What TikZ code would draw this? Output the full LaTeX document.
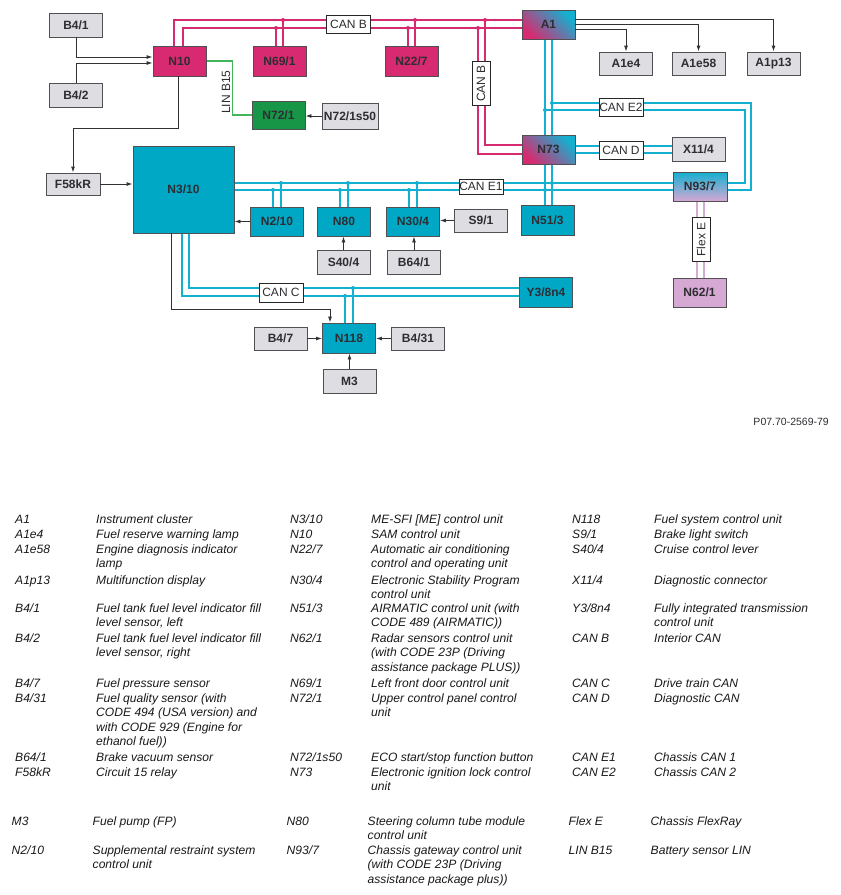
\documentclass[tikz,border=0pt]{standalone}
\usepackage{fontspec}
\setmainfont{Liberation Sans}
\usetikzlibrary{arrows.meta,backgrounds}

\definecolor{canbcol}{RGB}{216,42,112}
\definecolor{canecol}{RGB}{20,176,208}
\definecolor{cyanfill}{RGB}{0,168,198}
\definecolor{boxgrey}{RGB}{221,221,226}
\definecolor{boxline}{RGB}{80,80,84}
\definecolor{sigcol}{RGB}{50,50,52}
\definecolor{txt}{RGB}{45,45,50}
\definecolor{lingreen}{RGB}{70,180,90}
\definecolor{greenfill}{RGB}{24,150,72}
\definecolor{flexcol}{RGB}{214,168,212}

\tikzset{
  unit/.style={draw=boxline, line width=0.9pt, text=txt, font=\fontsize{12}{12}\selectfont\bfseries,
    inner sep=0pt, minimum width=53pt, minimum height=29pt},
  greybox/.style={unit, fill=boxgrey, minimum height=24pt},
  magbox/.style={unit, fill=canbcol, minimum height=30pt},
  cyanbox/.style={unit, fill=cyanfill},
  mixbox/.style={unit, left color=canbcol, right color=canecol, shading angle=135},
  buslbl/.style={draw=black!85, fill=white, line width=0.7pt, text=txt, font=\fontsize{12}{12}\selectfont,
    inner sep=0pt, minimum width=44pt, minimum height=18pt},
  canb/.style={draw=canbcol, line width=1.6pt},
  cane/.style={draw=canecol, line width=1.6pt},
  flex/.style={draw=flexcol, line width=1.6pt},
  lin/.style={draw=lingreen, line width=1.1pt},
  pdot/.style={circle, fill=canbcol, inner sep=0pt, minimum size=4pt},
  cdot/.style={circle, fill=canecol, inner sep=0pt, minimum size=4pt},
  sig/.style={draw=sigcol, line width=0.9pt, -{Latex[length=6pt,width=4pt]}},
  legtext/.style={font=\fontsize{12.1}{14.5}\selectfont\itshape, text=black!90, inner sep=0pt,
    anchor=north west, align=left},
}

% one legend row: number, y of first line, then code/text for the three columns
\newcommand\legrow[8]{%
  \node[legtext] (lca#1) at (15,#2-4.5) {#3};
  \node[legtext] (lda#1) at (96,#2-4.5) {#4};
  \node[legtext] (lcb#1) at (290,#2-4.5) {#5};
  \node[legtext] (ldb#1) at (371,#2-4.5) {#6};
  \node[legtext] (lcc#1) at (572,#2-4.5) {#7};
  \node[legtext] (ldc#1) at (654,#2-4.5) {#8};
}

\begin{document}
\begin{tikzpicture}[x=1pt,y=-1pt]
  \useasboundingbox (0,0) rectangle (841,895);

  % control units and components
  \node[greybox] (b41) at (76,25) {B4/1};
  \node[greybox] (b42) at (76,95) {B4/2};
  \node[magbox] (n10) at (179.5,61) {N10};
  \node[magbox] (n691) at (279.5,61) {N69/1};
  \node[magbox] (n227) at (411.5,61) {N22/7};
  \node[mixbox] (a1) at (548.5,24.5) {A1};
  \node[greybox, minimum height=23pt] (a1e4) at (626,63.5) {A1e4};
  \node[greybox, minimum height=23pt] (a1e58) at (698.5,63.5) {A1e58};
  \node[greybox, minimum height=23pt] (a1p13) at (773.5,63.5) {A1p13};
  \node[unit, fill=greenfill, minimum height=28pt] (n721) at (278.5,115) {N72/1};
  \node[greybox, minimum width=56pt, minimum height=26pt] (n721s50) at (350,116) {N72/1s50};
  \node[mixbox] (n73) at (548.5,149.5) {N73};
  \node[greybox] (x114) at (698.5,149) {X11/4};
  \node[unit, top color=canecol, bottom color=flexcol, minimum width=54pt] (n937) at (700,186.5) {N93/7};
  \node[unit, fill=flexcol] (n621) at (699.5,292.5) {N62/1};
  \node[cyanbox, minimum width=101pt, minimum height=87pt] (n310) at (183.5,189.5) {N3/10};
  \node[greybox, minimum width=54pt, minimum height=22pt] (f58kr) at (73,184) {F58kR};
  \node[cyanbox] (n210) at (277,221.5) {N2/10};
  \node[cyanbox] (n80) at (344,221.5) {N80};
  \node[cyanbox] (n304) at (413,221.5) {N30/4};
  \node[greybox, minimum height=23pt] (s91) at (481,220.5) {S9/1};
  \node[cyanbox, minimum height=30pt] (n513) at (547.5,220) {N51/3};
  \node[greybox] (s404) at (343.5,262) {S40/4};
  \node[greybox] (b641) at (414,262) {B64/1};
  \node[cyanbox, minimum height=30pt] (y38n4) at (546,292) {Y3/8n4};
  \node[cyanbox, minimum height=30pt] (n118) at (349,338) {N118};
  \node[greybox, minimum height=23pt] (b47) at (280.5,338.5) {B4/7};
  \node[greybox, minimum height=23pt] (b431) at (418,338.5) {B4/31};
  \node[greybox] (m3) at (349.5,381) {M3};

  % bus labels
  \node[buslbl] (lcanb) at (348.5,24) {CAN B};
  \node[buslbl, rotate=90] (lcanbv) at (481,83.5) {CAN B};
  \node[buslbl] (lcane2) at (621,107) {CAN E2};
  \node[buslbl] (lcand) at (621,150) {CAN D};
  \node[buslbl, minimum height=15pt] (lcane1) at (481,186.5) {CAN E1};
  \node[buslbl, minimum height=19pt] (lcanc) at (281,292.5) {CAN C};
  \node[buslbl, rotate=90] (lflexe) at (701,239.5) {Flex E};
  \node[rotate=90, text=txt, font=\fontsize{12}{12}\selectfont, inner sep=0pt] (llin) at (226,92) {LIN B15};

  % rails
  \coordinate (cbU) at (0,20);  \coordinate (cbL) at (0,28);
  \coordinate (e2U) at (0,103); \coordinate (e2L) at (0,110);
  \coordinate (e1U) at (0,183); \coordinate (e1L) at (0,190);
  \coordinate (ccU) at (0,288); \coordinate (ccL) at (0,296);
  \coordinate (cbxL) at (478,0); \coordinate (cbxU) at (485,0);
  \coordinate (e2xI) at (745,0); \coordinate (e2xO) at (751,0);

  \begin{scope}[on background layer]
    \fill[white] (0,0) rectangle (841,895);
    % CAN B
    \draw[canb] ([xshift=-5.5pt]n10.north) |- (a1.west |- cbU);
    \draw[canb] ([xshift=3.5pt]n10.north) |- (a1.west |- cbL);
    \foreach \u in {n691,n227} {
      \draw[canb] ([xshift=-3.5pt]\u.north) -- ([xshift=-3.5pt]\u.north |- cbL) node[pdot] {};
      \draw[canb] ([xshift=3.5pt]\u.north) -- ([xshift=3.5pt]\u.north |- cbU) node[pdot] {};
    }
    \draw[canb] (cbxL |- cbL) node[pdot] {} |- ([yshift=-4.5pt]n73.west);
    \draw[canb] (cbxU |- cbU) node[pdot] {} |- ([yshift=4.5pt]n73.west);
    % CAN E1 / E2 trunk
    \draw[cane] ([xshift=-3.5pt]a1.south) -- ([xshift=-3.5pt]a1.south |- n513.north);
    \draw[cane] ([xshift=3.5pt]a1.south) -- ([xshift=3.5pt]a1.south |- n513.north);
    \draw[cane] ([xshift=3.5pt]a1.south |- e2U) node[cdot] {} -- (e2xO |- e2U) |- ([yshift=-3.5pt]n937.east);
    \draw[cane] ([xshift=-3.5pt]a1.south |- e2L) node[cdot] {} -- (e2xI |- e2L) |- ([yshift=3.5pt]n937.east);
    % CAN D
    \draw[cane] ([yshift=3.5pt]n73.east) -- ([yshift=3.5pt]n73.east -| x114.west);
    \draw[cane] ([yshift=-3.5pt]n73.east) -- ([yshift=-3.5pt]n73.east -| x114.west);
    % CAN E1
    \draw[cane] (n310.east |- e1U) -- (n937.west |- e1U);
    \draw[cane] (n310.east |- e1L) -- (n937.west |- e1L);
    \foreach \u in {n210,n80,n304} {
      \draw[cane] ([xshift=-4pt]\u.north) -- ([xshift=-4pt]\u.north |- e1L) node[cdot] {};
      \draw[cane] ([xshift=4pt]\u.north) -- ([xshift=4pt]\u.north |- e1U) node[cdot] {};
    }
    \path ([xshift=-3.5pt]a1.south |- e1L) node[cdot] {} ([xshift=3.5pt]a1.south |- e1U) node[cdot] {};
    % CAN C
    \draw[cane] ([xshift=-1.5pt]n310.south) |- (y38n4.west |- ccL);
    \draw[cane] ([xshift=5.5pt]n310.south) |- (y38n4.west |- ccU);
    \draw[cane] ([xshift=-4pt]n118.north) -- ([xshift=-4pt]n118.north |- ccL) node[cdot] {};
    \draw[cane] ([xshift=4pt]n118.north) -- ([xshift=4pt]n118.north |- ccU) node[cdot] {};
    % Flex E and LIN
    \draw[flex] ([xshift=-3pt]n937.south) -- ([xshift=-3pt]n937.south |- n621.north);
    \draw[flex] ([xshift=4pt]n937.south) -- ([xshift=4pt]n937.south |- n621.north);
    \draw[lin] (n10.east) -- ++(26,0) |- (n721.west);
  \end{scope}

  % hard-wired signals
  \draw[sig] (b41.south) |- ([yshift=4pt]n10.west);
  \draw[sig] (b42.north) |- ([yshift=-2pt]n10.west);
  \draw[sig] ([xshift=-1.5pt]n10.south) -- ++(0,52) -| (f58kr.north);
  \draw[sig] (f58kr.east) -- (f58kr.east -| n310.west);
  \draw[sig] (n210.west) -- (n210.west -| n310.east);
  \draw[sig] (s91.west) -- (s91.west -| n304.east);
  \draw[sig] (s404.north) -- (s404.north |- n80.south);
  \draw[sig] (b641.north) -- (b641.north |- n304.south);
  \draw[sig] (n721s50.west) -- (n721s50.west -| n721.east);
  \draw[sig] ([yshift=5.5pt]a1.east) -| (a1p13.north);
  \draw[sig] ([yshift=0.5pt]a1.east) -| (a1e58.north);
  \draw[sig] ([yshift=-4.5pt]a1.east) -| (a1e4.north);
  \draw[sig] ([xshift=-12.5pt]n310.south) -- ++(0,76) -| ([xshift=-19pt]n118.north);
  \draw[sig] (b47.east) -- (b47.east -| n118.west);
  \draw[sig] (b431.west) -- (b431.west -| n118.east);
  \draw[sig] (m3.north) -- (m3.north |- n118.south);

  \node[font=\fontsize{10.5}{10.5}\selectfont, text=txt, anchor=east, inner sep=0pt] (docref) at (829,422) {P07.70-2569-79};

  % legend
  \legrow{1}{519}{A1}{Instrument cluster}{N3/10}{ME-SFI [ME] control unit}{N118}{Fuel system control unit}
  \legrow{2}{534}{A1e4}{Fuel reserve warning lamp}{N10}{SAM control unit}{S9/1}{Brake light switch}
  \legrow{3}{549}{A1e58}{Engine diagnosis indicator\\lamp}{N22/7}{Automatic air conditioning\\control and operating unit}{S40/4}{Cruise control lever}
  \legrow{4}{580}{A1p13}{Multifunction display}{N30/4}{Electronic Stability Program\\control unit}{X11/4}{Diagnostic connector}
  \legrow{5}{608}{B4/1}{Fuel tank fuel level indicator fill\\level sensor, left}{N51/3}{AIRMATIC control unit (with\\CODE 489 (AIRMATIC))}{Y3/8n4}{Fully integrated transmission\\control unit}
  \legrow{6}{638}{B4/2}{Fuel tank fuel level indicator fill\\level sensor, right}{N62/1}{Radar sensors control unit\\(with CODE 23P (Driving\\assistance package PLUS))}{CAN B}{Interior CAN}
  \legrow{7}{683}{B4/7}{Fuel pressure sensor}{N69/1}{Left front door control unit}{CAN C}{Drive train CAN}
  \legrow{8}{698}{B4/31}{Fuel quality sensor (with\\CODE 494 (USA version) and\\with CODE 929 (Engine for\\ethanol fuel))}{N72/1}{Upper control panel control\\unit}{CAN D}{Diagnostic CAN}
  \legrow{9}{757}{B64/1}{Brake vacuum sensor}{N72/1s50}{ECO start/stop function button}{CAN E1}{Chassis CAN 1}
  \legrow{10}{772}{F58kR}{Circuit 15 relay}{N73}{Electronic ignition lock control\\unit}{CAN E2}{Chassis CAN 2}
  \begin{scope}[xshift=-3.5pt]
    \legrow{11}{821}{M3}{Fuel pump (FP)}{N80}{Steering column tube module\\control unit}{Flex E}{Chassis FlexRay}
    \legrow{12}{850}{N2/10}{Supplemental restraint system\\control unit}{N93/7}{Chassis gateway control unit\\(with CODE 23P (Driving\\assistance package plus))}{LIN B15}{Battery sensor LIN}
  \end{scope}
\end{tikzpicture}
\end{document}
